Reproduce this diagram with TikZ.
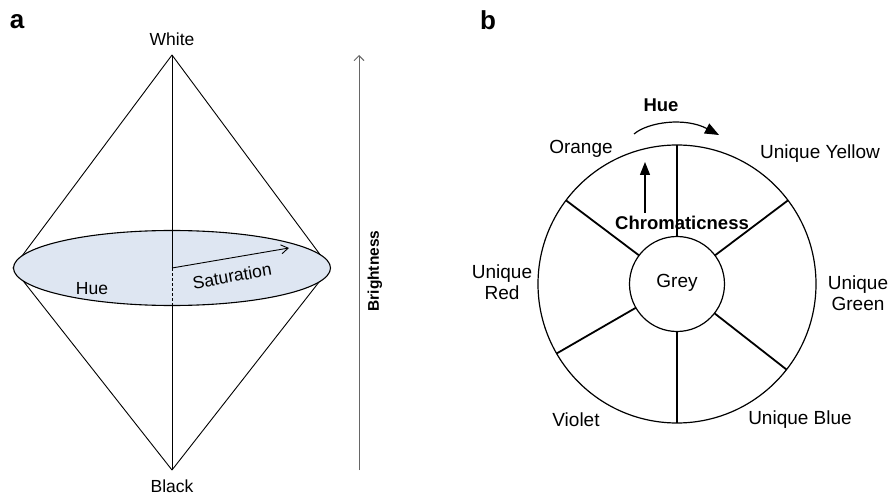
\documentclass[tikz,border=0pt]{standalone}
\usepackage{fontspec}
\setmainfont{Liberation Sans}
\usetikzlibrary{arrows.meta,calc}
\definecolor{discfill}{RGB}{222,230,242}
\tikzset{
  lbl/.style={font=\fontsize{17.5}{20}\selectfont, inner sep=1pt},
  rlbl/.style={font=\fontsize{19}{21}\selectfont, inner sep=1pt, align=center},
  blbl/.style={font=\bfseries\fontsize{18.5}{21}\selectfont, inner sep=1pt},
  plbl/.style={font=\bfseries\fontsize{26}{28}\selectfont, inner sep=1pt},
  edge/.style={line width=0.9pt, black},
  spoke/.style={line width=1.8pt, black},
  rim/.style={line width=1.2pt, black}
}
\begin{document}
\begin{tikzpicture}[x=1pt,y=-1pt]
\useasboundingbox (0,0) rectangle (889,497);
\fill[white] (0,0) rectangle (889,497);
% panel letters
\node[plbl] (la) at (17,22) {a};
\node[plbl] (lb) at (488,20) {b};
% ---------- left: double cone ----------
\coordinate (top) at (172,55);
\coordinate (bot) at (172,470);
\coordinate (L) at (13,268);
\coordinate (R) at (330,268);
\coordinate (C) at (172,268);
\coordinate (Cb) at (172,306);
\draw[edge] (top) -- (L);
\draw[edge] (top) -- (R);
\draw[edge] (bot) -- (L);
\draw[edge] (bot) -- (R);
\fill[discfill] (C) ellipse [x radius=158.5, y radius=37.5];
\draw[line width=1.1pt] (C) ellipse [x radius=158.5, y radius=37.5];
\draw[edge] (top) -- (C);
\draw[edge] (Cb) -- (bot);
\draw[edge, dashed, dash pattern=on 3pt off 2pt] (C) -- (Cb);
\coordinate (satend) at (289,248);
\draw[edge, -{Straight Barb[length=7pt,width=9pt]}] (C) -- (satend);
\node[lbl, rotate=10] (sat) at (232,276) {Saturation};
\node[lbl] (hueL) at (92,289) {Hue};
\node[lbl] (white) at (172,39) {White};
\node[lbl] (black) at (172,486) {Black};
% brightness axis
\coordinate (bb) at (359,470);
\coordinate (bt) at (359,55);
\draw[line width=1pt, black!60, -{Straight Barb[length=5pt,width=10pt,line width=0.9pt]}] (bb) -- (bt);
\node[font=\bfseries\fontsize{15.5}{17}\selectfont, rotate=90, inner sep=1pt] (bright) at (375,271) {Brightness};
% ---------- right: hue circle ----------
\coordinate (O) at (677,284);
\draw[rim] (O) circle [radius=139];
\foreach \a in {90,37,143,210,270,322}{
  \draw[spoke] ($(O)+(\a:47.5 and -47.5)$) -- ($(O)+(\a:139 and -139)$);
}
\node[circle, draw, rim, fill=white, minimum size=95pt, inner sep=0pt] (grey) at (O) {};
\node[rlbl] (greyt) at (677,283) {Grey};
\node[blbl] (hueR) at (661,105) {Hue};
\coordinate (ha) at (634,134);
\coordinate (hb) at (719,135);
\draw[line width=1.2pt, -{Triangle[length=14pt,width=11pt]}] (ha) .. controls (648,122) and (685,117) .. (hb);
\node[blbl] (chrom) at (682,223) {Chromaticness};
\coordinate (ca) at (645,213);
\coordinate (cb) at (645,162);
\draw[line width=1.2pt, -{Triangle[length=13pt,width=10pt]}] (ca) -- (cb);
\node[rlbl] (orange) at (581,149) {Orange};
\node[rlbl] (yellow) at (820,154) {Unique Yellow};
\node[rlbl] (red) at (502,282) {Unique\\Red};
\node[rlbl] (green) at (858,293) {Unique\\Green};
\node[rlbl] (violet) at (576,420) {Violet};
\node[rlbl] (blue) at (800,420) {Unique Blue};
\end{tikzpicture}
\end{document}
